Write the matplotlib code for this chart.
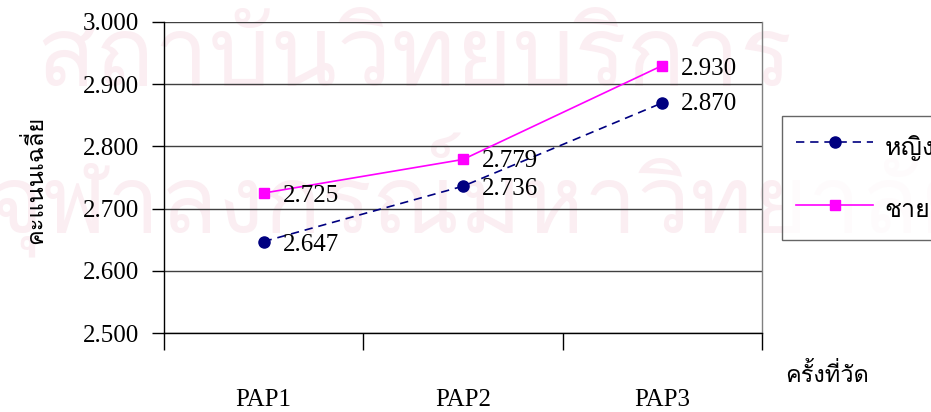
import matplotlib
matplotlib.use("Agg")
import matplotlib.pyplot as plt
from matplotlib import font_manager
from matplotlib.ft2font import FT2Font
from matplotlib.lines import Line2D

categories = ["PAP1", "PAP2", "PAP3"]
female = [2.647, 2.736, 2.870]
male = [2.725, 2.779, 2.930]
series_names = ["หญิง", "ชาย"]
y_ticks = [2.5, 2.6, 2.7, 2.8, 2.9, 3.0]
x_title = "ครั้งที่วัด"
y_title = "คะแนนเฉลี่ย"
watermark_lines = ["สถาบันวิทยบริการ", "จุฬาลงกรณ์มหาวิทยาลัย"]


def find_thai_family():
    preferred = []
    others = []
    for f in font_manager.fontManager.ttflist:
        try:
            cmap = FT2Font(f.fname).get_charmap()
        except Exception:
            continue
        if ord("ห") in cmap and ord("ญ") in cmap:
            if "Serif" in f.name or "Loma" in f.name or "Norasi" in f.name:
                preferred.append(f.name)
            else:
                others.append(f.name)
    names = preferred + others
    return names[0] if names else None


thai = find_thai_family()
serif = ["Liberation Serif", "DejaVu Serif"]
thai_fam = ([thai] if thai else []) + ["DejaVu Sans"]

FS = 18

plt.rcParams["font.family"] = serif
fig = plt.figure(figsize=(9.31, 4.12), dpi=100)

# faint background watermark, kept behind the axes
wm_color = "#fbeef2"
fig.text(36 / 931, 1 - 62 / 412, watermark_lines[0], family=thai_fam, fontsize=70,
         color=wm_color, ha="left", va="center", zorder=-5)
fig.text(-12 / 931, 1 - 195 / 412, watermark_lines[1], family=thai_fam, fontsize=68,
         color=wm_color, ha="left", va="center", zorder=-5)

ax = fig.add_axes([164 / 931, 1 - 333 / 412, 598 / 931, 311 / 412])
ax.set_facecolor("none")

x = list(range(len(categories)))
ax.plot(x, female, color="#000080", linestyle=(0, (5, 3.5)), linewidth=1.2,
        marker="o", markersize=8, label=series_names[0], zorder=3)
ax.plot(x, male, color="#ff00ff", linestyle="-", linewidth=1.2,
        marker="s", markersize=7.5, label=series_names[1], zorder=3)

off_f = [(19, -3), (19, -3), (19, -1)]
off_m = [(19, -3), (19, -2), (19, -3)]
for i, v in enumerate(female):
    ax.annotate(f"{v:.3f}", (x[i], v), xytext=off_f[i], textcoords="offset pixels",
                ha="left", va="center", fontsize=FS, color="black", zorder=4)
for i, v in enumerate(male):
    ax.annotate(f"{v:.3f}", (x[i], v), xytext=off_m[i], textcoords="offset pixels",
                ha="left", va="center", fontsize=FS, color="black", zorder=4)

ax.set_xlim(-0.5, 2.5)
ax.set_ylim(2.5, 3.0)
ax.set_yticks(y_ticks)
ax.set_yticklabels([f"{t:.3f}" for t in y_ticks], fontsize=FS)
ax.set_xticks([-0.5, 0.5, 1.5, 2.5])
ax.set_xticklabels([])
ax.tick_params(axis="y", direction="out", length=9, width=1, pad=9, color="black")
ax.tick_params(axis="x", direction="out", length=12, width=1, color="black")
for i, c in enumerate(categories):
    ax.text(i, -0.215, c, transform=ax.get_xaxis_transform(), ha="center", va="center",
            fontsize=FS)

ax.grid(axis="y", color="#404040", linewidth=1)
ax.set_axisbelow(True)
ax.spines["left"].set_color("black")
ax.spines["bottom"].set_color("black")
ax.spines["right"].set_color("#808080")
ax.spines["top"].set_visible(False)
for s in ax.spines.values():
    s.set_linewidth(1)

fig.text(785 / 931, 1 - 375 / 412, x_title, family=thai_fam, fontsize=17,
         ha="left", va="center")
fig.text(35 / 931, 1 - 180 / 412, y_title, family=thai_fam, fontsize=17,
         ha="center", va="center", rotation=90)

handles = [
    Line2D([], [], color="#000080", linestyle=(0, (5, 3.5)), linewidth=1.2, marker="o", markersize=8),
    Line2D([], [], color="#ff00ff", linestyle="-", linewidth=1.2, marker="s", markersize=7.5),
]
leg = fig.legend(handles, series_names, loc="upper left",
                 bbox_to_anchor=(782 / 931, 1 - 116 / 412),
                 prop={"family": thai_fam, "size": FS}, frameon=True, fancybox=False,
                 handlelength=3.1, handleheight=1.7, handletextpad=0.45,
                 labelspacing=1.15, borderpad=0.55, borderaxespad=0)
leg.get_frame().set_edgecolor("#404040")
leg.get_frame().set_linewidth(1)

fig.savefig("out.png", dpi=100)
